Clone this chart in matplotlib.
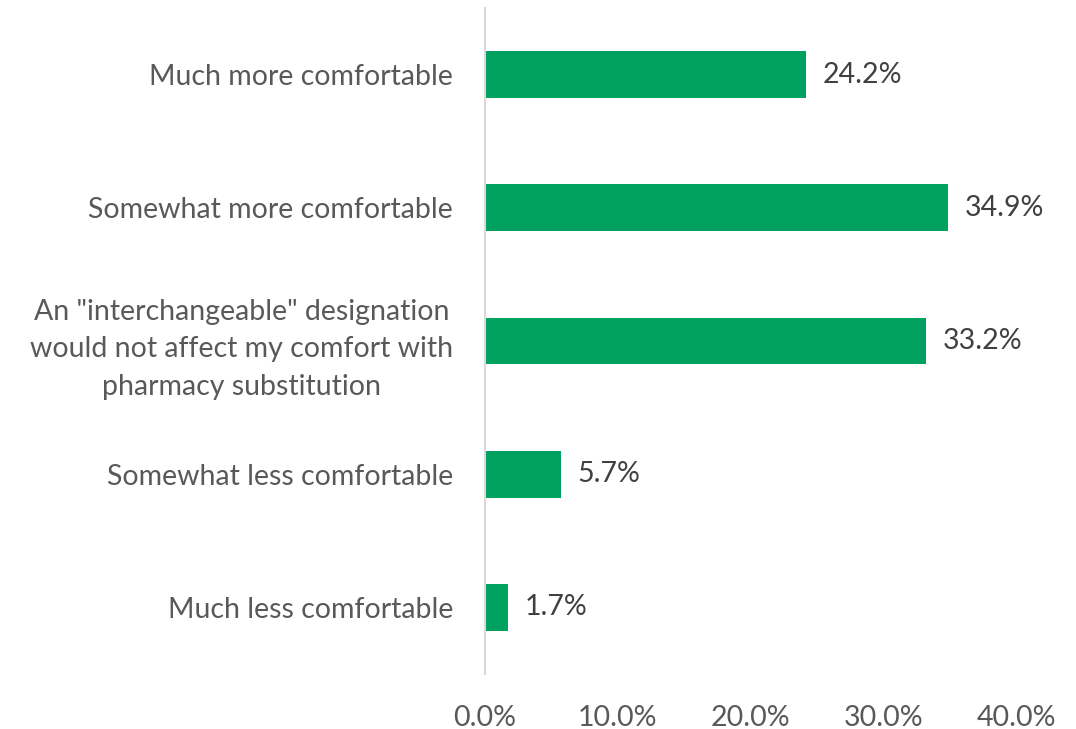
import matplotlib
matplotlib.use("Agg")
import matplotlib.pyplot as plt
from matplotlib.ticker import FuncFormatter

categories = [
    "Much more comfortable",
    "Somewhat more comfortable",
    "An \"interchangeable\" designation\nwould not affect my comfort with\npharmacy substitution",
    "Somewhat less comfortable",
    "Much less comfortable",
]
values = [24.2, 34.9, 33.2, 5.7, 1.7]
xticks = [0, 10, 20, 30, 40]

plt.rcParams["font.family"] = ["Lato", "DejaVu Sans"]
FS = 20.5

fig = plt.figure(figsize=(10.76, 7.29), dpi=100)
ax = fig.add_axes([485 / 1076, 1 - 674 / 729, (1016 - 485) / 1076, (674 - 8) / 729])

ypos = list(range(len(categories)))
ax.barh(ypos, values, height=0.35, color="#00A15F")
for y, v in zip(ypos, values):
    ax.annotate(f"{v:.1f}%", xy=(v, y), xytext=(12, 0), textcoords="offset points",
                va="center", ha="left", fontsize=FS, color="#404040")

ax.set_xlim(0, 40)
ax.set_ylim(len(categories) - 0.5, -0.5)
ax.set_yticks(ypos)
ax.set_yticklabels(categories, fontsize=FS, color="#595959", linespacing=1.55)
for lab in ax.get_yticklabels():
    lab.set_multialignment("center")
ax.set_xticks(xticks)
ax.xaxis.set_major_formatter(FuncFormatter(lambda x, _: f"{x:.1f}%"))
for lab in ax.get_xticklabels():
    lab.set_fontsize(FS)
    lab.set_color("#595959")

ax.tick_params(axis="y", length=0, pad=23)
ax.tick_params(axis="x", length=0, pad=22)
for s in ["top", "right", "bottom"]:
    ax.spines[s].set_visible(False)
ax.spines["left"].set_color("#D9D9D9")
ax.spines["left"].set_linewidth(1.5)

fig.savefig("out.png", dpi=100)
